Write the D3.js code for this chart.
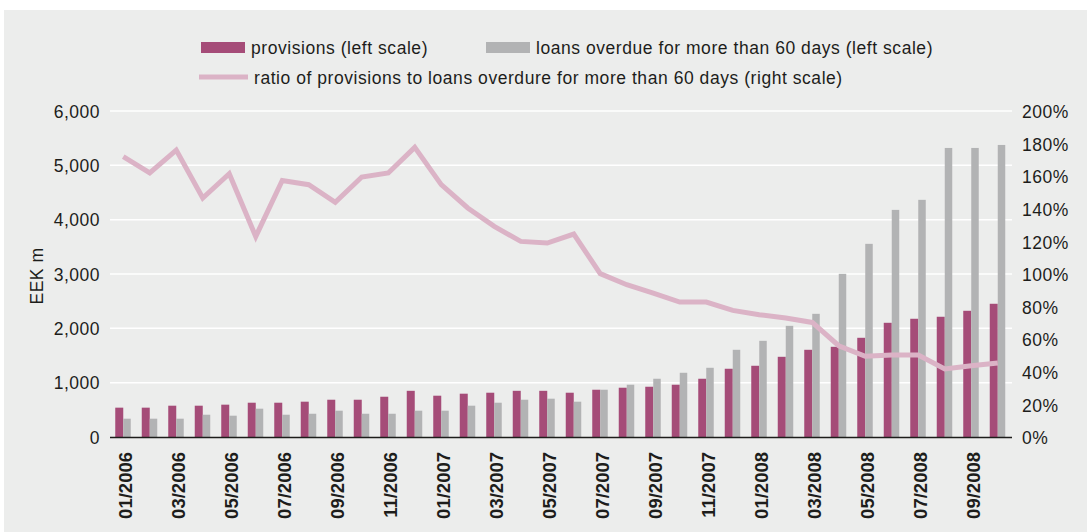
<!DOCTYPE html>
<html>
<head>
<meta charset="utf-8">
<script src="https://cdn.jsdelivr.net/npm/d3@7"></script>
<style>
  html, body { margin: 0; padding: 0; background: #ffffff; }
  svg { display: block; }
  text { font-family: "Liberation Sans", Arial, Helvetica, sans-serif; fill: #1d1d1b; }
</style>
</head>
<body>
<svg id="chart" width="1087" height="532"></svg>
<script>
// Monthly observations, 01/2006 – 10/2008
const months = [
  "01/2006","02/2006","03/2006","04/2006","05/2006","06/2006","07/2006","08/2006","09/2006","10/2006","11/2006","12/2006",
  "01/2007","02/2007","03/2007","04/2007","05/2007","06/2007","07/2007","08/2007","09/2007","10/2007","11/2007","12/2007",
  "01/2008","02/2008","03/2008","04/2008","05/2008","06/2008","07/2008","08/2008","09/2008","10/2008"
];

// Provisions, EEK m (left scale)
const provisions = [
  540, 540, 576, 576, 595, 631, 631, 650, 686, 686, 741, 850,
  760, 797, 815, 850, 850, 815, 870, 907, 925, 962, 1072, 1256,
  1311, 1476, 1605, 1660, 1826, 2102, 2176, 2213, 2323, 2452
];

// Loans overdue for more than 60 days, EEK m (left scale)
const overdue = [
  337, 337, 337, 410, 392, 521, 410, 428, 484, 428, 428, 484,
  484, 576, 631, 686, 705, 650, 870, 962, 1072, 1182, 1274, 1605,
  1770, 2046, 2267, 3003, 3555, 4180, 4365, 5320, 5320, 5375
];

// Ratio of provisions to overdue loans, % (right scale)
const ratio = [
  172, 162, 176, 146.6, 161.5, 123, 157.4, 154.8, 144, 159.5, 162, 177.7,
  154.8, 140.5, 129.2, 120, 119, 124.5, 100.2, 93.4, 88.3, 82.8, 82.8, 77.7,
  75, 73, 70.3, 56, 49.5, 50.3, 50.3, 41.7, 43.7, 45.4
];

const leftTicks = [0, 1000, 2000, 3000, 4000, 5000, 6000];
const rightTicks = [0, 20, 40, 60, 80, 100, 120, 140, 160, 180, 200];
const shownMonths = months.filter((m, i) => i % 2 === 0);

const colProv = "#a54c78";
const colOver = "#b2b3b4";
const colRatio = "#dbb3c6";
const colPanel = "#ecedec";

const svg = d3.select("#chart");

// panel background
svg.append("rect")
  .attr("x", 4).attr("y", 10)
  .attr("width", 1083).attr("height", 522)
  .attr("fill", colPanel);

const plot = { left: 110, right: 1011, top: 111, bottom: 437 };

const x = d3.scaleBand().domain(months).range([plot.left, plot.right]).paddingInner(0).paddingOuter(0);
const xInner = d3.scaleBand().domain(["prov", "over"]).range([-8, 8]);
const yL = d3.scaleLinear().domain([0, 6000]).range([plot.bottom, plot.top]);
const yR = d3.scaleLinear().domain([0, 200]).range([plot.bottom, plot.top]);

const fontSize = "17.5px";
const spacing = "0.5px";

// gridlines
svg.append("g")
  .selectAll("line")
  .data(leftTicks.filter(d => d > 0))
  .join("line")
  .attr("x1", plot.left).attr("x2", plot.right + 1)
  .attr("y1", d => yL(d)).attr("y2", d => yL(d))
  .attr("stroke", "#ffffff").attr("stroke-width", 1.5);

// left axis
const axL = svg.append("g")
  .attr("transform", `translate(${plot.left},0)`)
  .call(d3.axisLeft(yL).tickValues(leftTicks).tickFormat(d3.format(",")).tickSize(0).tickPadding(10));
axL.select(".domain").remove();
axL.selectAll("text")
  .style("font-size", fontSize).style("letter-spacing", spacing)
  .attr("font-family", null).attr("fill", "#1d1d1b")
  .attr("dy", "0.36em");

// right axis
const axR = svg.append("g")
  .attr("transform", `translate(${plot.right},0)`)
  .call(d3.axisRight(yR).tickValues(rightTicks).tickFormat(d => d + "%").tickSize(0).tickPadding(11));
axR.select(".domain").remove();
axR.selectAll("text")
  .style("font-size", fontSize).style("letter-spacing", spacing)
  .attr("font-family", null).attr("fill", "#1d1d1b")
  .attr("dy", "0.38em");

// left axis title
svg.append("text")
  .attr("transform", `translate(43,${(plot.top + plot.bottom) / 2 + 2}) rotate(-90)`)
  .attr("text-anchor", "middle")
  .style("font-size", fontSize).style("letter-spacing", spacing)
  .text("EEK m");

// bars
const groups = svg.append("g")
  .selectAll("g")
  .data(months)
  .join("g")
  .attr("transform", d => `translate(${x(d) + x.bandwidth() / 2},0)`);

groups.append("rect")
  .attr("x", xInner("prov"))
  .attr("width", xInner.bandwidth())
  .attr("y", (d, i) => yL(provisions[i]))
  .attr("height", (d, i) => yL(0) - yL(provisions[i]))
  .attr("fill", colProv);

groups.append("rect")
  .attr("x", xInner("over"))
  .attr("width", xInner.bandwidth() - 0.5)
  .attr("y", (d, i) => yL(overdue[i]))
  .attr("height", (d, i) => yL(0) - yL(overdue[i]))
  .attr("fill", colOver);

// baseline
svg.append("line")
  .attr("x1", plot.left).attr("x2", plot.right + 1)
  .attr("y1", plot.bottom + 0.5).attr("y2", plot.bottom + 0.5)
  .attr("stroke", "#1d1d1b").attr("stroke-width", 1.5);

// ratio line
const line = d3.line()
  .x((d, i) => x(months[i]) + x.bandwidth() / 2)
  .y(d => yR(d));

svg.append("path")
  .datum(ratio)
  .attr("d", line)
  .attr("fill", "none")
  .attr("stroke", colRatio)
  .attr("stroke-width", 5)
  .attr("stroke-linejoin", "miter");

// month labels (every second month)
const axB = svg.append("g")
  .attr("transform", `translate(0,${plot.bottom})`)
  .call(d3.axisBottom(x).tickValues(shownMonths).tickSize(0).tickPadding(0));
axB.select(".domain").remove();
axB.selectAll("text")
  .attr("font-family", null).attr("fill", "#1d1d1b")
  .style("font-size", "18.5px").style("font-weight", "bold")
  .attr("text-anchor", "end")
  .attr("dy", null).attr("y", null)
  .attr("transform", "translate(9,15) rotate(-90)");

// legend
const legendSpacing = "0.55px";
const legend = svg.append("g");
legend.append("rect").attr("x", 201).attr("y", 42).attr("width", 44).attr("height", 11).attr("fill", colProv);
legend.append("text").attr("x", 251).attr("y", 54)
  .style("font-size", fontSize).style("letter-spacing", legendSpacing)
  .text("provisions (left scale)");
legend.append("rect").attr("x", 486).attr("y", 42).attr("width", 44).attr("height", 11).attr("fill", colOver);
legend.append("text").attr("x", 536).attr("y", 54)
  .style("font-size", fontSize).style("letter-spacing", legendSpacing)
  .text("loans overdue for more than 60 days (left scale)");
legend.append("line").attr("x1", 199).attr("x2", 248).attr("y1", 77).attr("y2", 77)
  .attr("stroke", colRatio).attr("stroke-width", 5);
legend.append("text").attr("x", 254).attr("y", 83.5)
  .style("font-size", fontSize).style("letter-spacing", legendSpacing)
  .text("ratio of provisions to loans overdure for more than 60 days (right scale)");
</script>
</body>
</html>
